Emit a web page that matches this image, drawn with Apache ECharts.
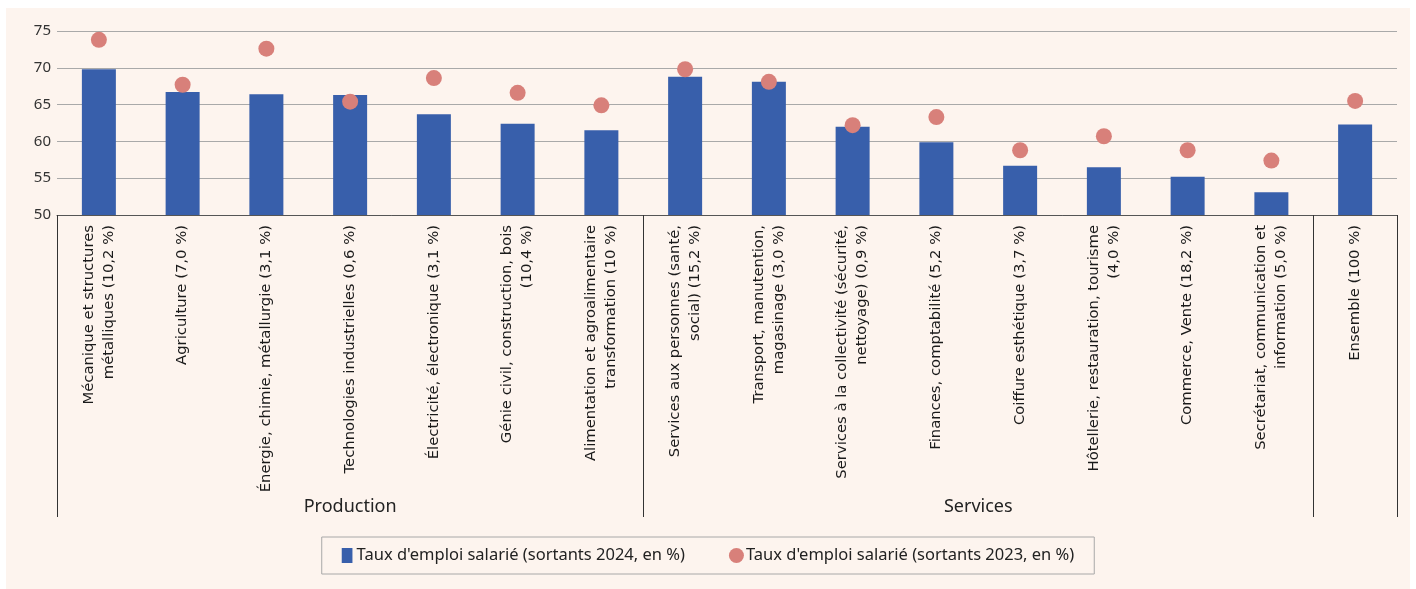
<!DOCTYPE html>
<html>
<head>
<meta charset="utf-8">
<script src="https://cdn.jsdelivr.net/npm/echarts@6/dist/echarts.min.js"></script>
<style>
html,body{margin:0;padding:0;background:#ffffff;}
#c{position:absolute;left:6px;top:8px;width:1404px;height:581px;background:#fdf4ee;}
</style>
</head>
<body>
<div id="c"></div>
<script>
const categories = [
  "Mécanique et structures\nmétalliques (10,2 %)",
  "Agriculture (7,0 %)",
  "Énergie, chimie, métallurgie (3,1 %)",
  "Technologies industrielles (0,6 %)",
  "Électricité, électronique (3,1 %)",
  "Génie civil, construction, bois\n(10,4 %)",
  "Alimentation et agroalimentaire\ntransformation (10 %)",
  "Services aux personnes (santé,\nsocial) (15,2 %)",
  "Transport, manutention,\nmagasinage (3,0 %)",
  "Services à la collectivité (sécurité,\nnettoyage) (0,9 %)",
  "Finances, comptabilité (5,2 %)",
  "Coiffure esthétique (3,7 %)",
  "Hôtellerie, restauration, tourisme\n(4,0 %)",
  "Commerce, Vente (18,2 %)",
  "Secrétariat, communication et\ninformation (5,0 %)",
  "Ensemble (100 %)"
];
const rate2024 = [69.8, 66.7, 66.4, 66.3, 63.7, 62.4, 61.5, 68.8, 68.1, 62.0, 59.9, 56.7, 56.5, 55.2, 53.1, 62.3];
const rate2023 = [73.8, 67.7, 72.6, 65.4, 68.6, 66.6, 64.9, 69.8, 68.1, 62.2, 63.3, 58.8, 60.7, 58.8, 57.4, 65.5];
const groupNames = ["Production", "Services", ""];
const groupBounds = [0, 7, 15, 16];
const yTicks = [50, 55, 60, 65, 70, 75];
const seriesNames = ["Taux d'emploi salarié (sortants 2024, en %)", "Taux d'emploi salarié (sortants 2023, en %)"];

const groupMids = groupNames.map((n, i) => (groupBounds[i] + groupBounds[i + 1]) / 2);
const FONT = "'Noto Sans', sans-serif";
const LABELFONT = "'DejaVu Sans', sans-serif";

const chart = echarts.init(document.getElementById('c'));
chart.setOption({
  backgroundColor: 'transparent',
  animation: false,
  textStyle: { fontFamily: FONT },
  grid: { left: 51, right: 13, top: 23, bottom: 374 },
  legend: {
    left: 'center',
    top: 529,
    padding: [10, 20, 10, 20],
    borderColor: '#a8a8a8',
    borderWidth: 1,
    itemGap: 44,
    itemWidth: 15,
    itemHeight: 15,
    textStyle: { fontSize: 16.5, color: '#222', fontFamily: FONT, padding: [0, 0, 0, -3] },
    data: [
      { name: seriesNames[0], icon: 'path://M0,0 L10,0 L10,14 L0,14 Z' },
      { name: seriesNames[1], icon: 'circle' }
    ]
  },
  xAxis: [
    {
      type: 'category',
      data: categories,
      axisLine: { lineStyle: { color: '#555', width: 1 } },
      axisTick: { show: false },
      axisLabel: {
        rotate: 90,
        interval: 0,
        margin: 10,
        fontSize: 14.8,
        lineHeight: 20,
        color: '#1a1a1a',
        fontFamily: LABELFONT,
        align: 'right'
      }
    },
    {
      type: 'value',
      min: groupBounds[0],
      max: groupBounds[groupBounds.length - 1],
      position: 'bottom',
      axisLine: { show: false },
      splitLine: { show: false },
      axisTick: {
        show: true,
        length: 302,
        customValues: groupBounds,
        lineStyle: { color: '#333', width: 1 }
      },
      axisLabel: {
        margin: 283,
        customValues: groupMids.slice(0, 2),
        fontSize: 18,
        color: '#222',
        fontFamily: FONT,
        formatter: function (v) {
          const i = groupMids.indexOf(v);
          return i >= 0 ? groupNames[i] : '';
        }
      }
    }
  ],
  yAxis: {
    type: 'value',
    min: yTicks[0],
    max: yTicks[yTicks.length - 1],
    interval: yTicks[1] - yTicks[0],
    axisLine: { show: false },
    axisTick: { show: false },
    axisLabel: { fontSize: 15, color: '#333', margin: 6, fontFamily: FONT },
    splitLine: { lineStyle: { color: '#a9a9a9', width: 1 } }
  },
  series: [
    {
      name: seriesNames[0],
      type: 'bar',
      data: rate2024,
      barWidth: 34,
      itemStyle: { color: '#385fab' }
    },
    {
      name: seriesNames[1],
      type: 'scatter',
      data: rate2023,
      symbol: 'circle',
      symbolSize: 16,
      itemStyle: { color: '#d8807a', opacity: 1 },
      z: 3
    }
  ]
});
</script>
</body>
</html>
